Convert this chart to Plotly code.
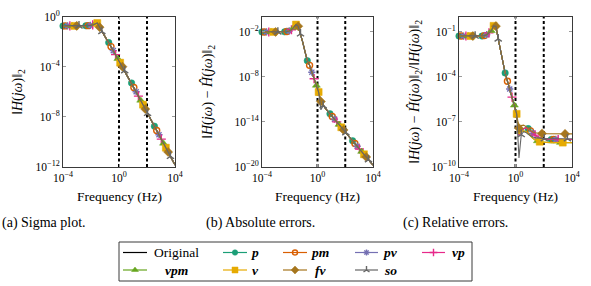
import numpy as np
import plotly.graph_objects as go
from plotly.subplots import make_subplots

W, H = 591, 286

# ---------------- data ----------------
# 50 log-spaced frequency samples between 1e-4 and 1e4 Hz
freq_hz = np.logspace(-4, 4, 50)

# log10 of sigma plot ||H(jw)||_2 (original; reduced models coincide)
sigma_log10 = [-0.75, -0.75, -0.75, -0.75, -0.75, -0.75, -0.75, -0.75, -0.75, -0.75,
               -0.74, -0.73, -0.71, -0.67, -0.60, -0.52, -0.85, -1.20, -1.50, -1.80,
               -2.08, -2.40, -2.72, -3.04, -3.36, -3.68, -4.00, -4.32, -4.64, -4.96,
               -5.30, -5.66, -6.00, -6.35, -6.69, -7.03, -7.38, -7.72, -8.06, -8.41,
               -8.75, -9.09, -9.43, -9.78, -10.12, -10.46, -10.80, -11.15, -11.49, -11.84]

# log10 of absolute error ||H - Hhat||_2
abs_err_log10 = [-2.05, -2.05, -2.05, -2.05, -2.05, -2.05, -2.05, -2.05, -2.05, -2.05,
                 -2.04, -2.00, -1.92, -1.76, -1.45, -1.07, -1.30, -2.30, -3.45, -4.70,
                 -5.87, -6.49, -7.40, -8.27, -9.16, -10.04, -11.30, -11.85, -12.20, -12.57,
                 -12.92, -13.28, -13.64, -14.00, -14.36, -14.72, -15.08, -15.44, -15.80, -16.16,
                 -16.52, -16.88, -17.24, -17.60, -17.95, -18.31, -18.67, -19.03, -19.39, -19.75]
abs_err_so_dip = {26: -12.40}

# log10 of relative error, common part (samples 0..25)
rel_err_head_log10 = [-1.30, -1.30, -1.30, -1.30, -1.30, -1.30, -1.30, -1.30, -1.30, -1.30,
                      -1.30, -1.27, -1.21, -1.09, -0.95, -0.62, -0.64, -1.49, -2.30, -3.05,
                      -3.75, -4.30, -4.82, -5.36, -5.90, -6.47]
# log10 of relative error tails (samples 26..49)
rel_tail_a = [-7.90, -7.60, -7.45, -7.40, -7.45, -7.60, -7.75, -7.88, -7.98, -8.05,
              -8.10, -8.13, -8.15, -8.16, -8.17, -8.17, -8.17, -8.17, -8.17, -8.17,
              -8.17, -8.17, -8.17, -8.17]
rel_tail_b = [-7.80, -7.65, -7.60, -7.65, -7.78, -7.95, -8.10, -8.20, -8.27, -8.32,
              -8.35, -8.37, -8.38, -8.38, -8.38, -8.38, -8.38, -8.38, -8.38, -8.38,
              -8.38, -8.38, -8.38, -8.38]
rel_tail_fv = [-7.42, -7.25, -7.22, -7.30, -7.45, -7.58, -7.67, -7.72, -7.75, -7.76,
               -7.77, -7.78, -7.78, -7.79, -7.79, -7.79, -7.80, -7.80, -7.80, -7.80,
               -7.80, -7.80, -7.80, -7.80]
rel_tail_so = [-9.40, -7.85, -7.65, -7.70, -7.82, -7.93, -8.00, -8.05, -8.08, -8.10,
               -8.11, -8.12, -8.12, -8.12, -8.12, -8.12, -8.12, -8.12, -8.12, -8.12,
               -8.12, -8.12, -8.12, -8.12]

series_names = ["p", "pm", "pv", "vp", "vpm", "v", "fv", "so"]
rel_tail_of = {"p": rel_tail_a, "pm": rel_tail_a, "pv": rel_tail_a, "vp": rel_tail_a,
               "vpm": rel_tail_b, "v": rel_tail_b, "fv": rel_tail_fv, "so": rel_tail_so}

band_edges_hz = [1.0, 100.0]

x_tick_exponents = [-4, 0, 4]
y_tick_exponents = [[-12, -8, -4, 0], [-20, -14, -8, -2], [-10, -7, -4, -1]]

x_title = "Frequency (Hz)"
captions = ["(a) Sigma plot.", "(b) Absolute errors.", "(c) Relative errors."]

# ---------------- style ----------------
colors = {"p": "#1b9e77", "pm": "#d95f02", "pv": "#7570b3", "vp": "#e7298a",
          "vpm": "#66a61e", "v": "#e6ab02", "fv": "#a6761d", "so": "#666666"}
symbols = {"p": "circle", "pm": "circle-open", "pv": "asterisk-open", "vp": "cross-thin-open",
           "vpm": "triangle-up", "v": "square", "fv": "diamond", "so": "y-up-open"}
sizes = {"p": 6.5, "pm": 6, "pv": 6, "vp": 6.5, "vpm": 7, "v": 7, "fv": 7, "so": 6}
mark_phase = {n: i for i, n in enumerate(series_names)}
MARK_REPEAT = 10
FONT = "Liberation Serif, DejaVu Serif, serif"

def marker_style(n, size=None):
    s = sizes[n] if size is None else size
    sym = symbols[n]
    lw = 1.4 if sym.endswith("-open") else 0.5
    return dict(symbol=sym, size=s, color=colors[n], line=dict(color=colors[n], width=lw))

fig = make_subplots(rows=1, cols=3)

px_x = [(63, 175), (262, 373), (459, 572)]
y_dom = [1 - 167 / H, 1 - 16.5 / H]
yranges = [[-12, 0], [-20, 0], [-10, 0]]

def add_band_lines(col):
    yr = yranges[col - 1]
    for f in band_edges_hz:
        fig.add_trace(go.Scatter(x=[f, f], y=[10 ** yr[0], 10 ** yr[1]], mode="lines",
                                 line=dict(color="black", width=2, dash="3px,2.5px"),
                                 showlegend=False, hoverinfo="skip"), row=1, col=col)

def add_series(col, n, ylog):
    y = [10 ** v for v in ylog]
    fig.add_trace(go.Scatter(x=freq_hz, y=y, mode="lines",
                             line=dict(color=colors[n], width=1.1),
                             showlegend=False, hoverinfo="skip"), row=1, col=col)
    idx = [j for j in range(len(y)) if j % MARK_REPEAT == mark_phase[n]]
    fig.add_trace(go.Scatter(x=[freq_hz[j] for j in idx], y=[y[j] for j in idx], mode="markers",
                             marker=marker_style(n), cliponaxis=False,
                             showlegend=False, hoverinfo="skip"), row=1, col=col)

# panel 1
add_band_lines(1)
fig.add_trace(go.Scatter(x=freq_hz, y=[10 ** v for v in sigma_log10], mode="lines",
                         line=dict(color="black", width=1.2), showlegend=False), row=1, col=1)
for n in series_names:
    add_series(1, n, sigma_log10)

# panel 2
add_band_lines(2)
for n in series_names:
    vals = list(abs_err_log10)
    if n == "so":
        for j, v in abs_err_so_dip.items():
            vals[j] = v
    add_series(2, n, vals)

# panel 3
add_band_lines(3)
for n in series_names:
    add_series(3, n, rel_err_head_log10 + rel_tail_of[n])

tickfont = dict(family=FONT, size=11.5, color="black")
def pow_labels(exps):
    return [f"10<sup>{'−' if e < 0 else ''}{abs(e)}</sup>" for e in exps]

for i in range(3):
    xa = "xaxis" if i == 0 else f"xaxis{i+1}"
    ya = "yaxis" if i == 0 else f"yaxis{i+1}"
    fig.layout[xa].update(type="log", range=[-4, 4], domain=[px_x[i][0] / W, px_x[i][1] / W],
                          tickmode="array", tickvals=[10.0 ** e for e in x_tick_exponents],
                          ticktext=pow_labels(x_tick_exponents), automargin=False,
                          showgrid=False, zeroline=False,
                          showline=True, linecolor="#3a3a3a", linewidth=1, mirror="allticks",
                          ticks="inside", ticklen=3, tickcolor="#9a9a9a", tickfont=tickfont)
    fig.layout[ya].update(type="log", range=yranges[i], domain=y_dom,
                          tickmode="array", tickvals=[10.0 ** e for e in y_tick_exponents[i]],
                          ticktext=pow_labels(y_tick_exponents[i]), automargin=False,
                          showgrid=False, zeroline=False,
                          showline=True, linecolor="#3a3a3a", linewidth=1, mirror="allticks",
                          ticks="inside", ticklen=3, tickcolor="#9a9a9a", tickfont=tickfont)

# ---------- legend drawn in a pixel-space overlay ----------
fig.layout.xaxis4 = dict(domain=[0, 1], range=[0, W], visible=False, fixedrange=True,
                         anchor="y4", automargin=False)
fig.layout.yaxis4 = dict(domain=[0, 1], range=[H, 0], visible=False, fixedrange=True,
                         anchor="x4", automargin=False)

leg_rows = [["Original", "p", "pm", "pv", "vp"], ["vpm", "v", "fv", "so"]]
leg_row_y = [252.5, 270]
leg_line_x = [(123, 147), (223, 247), (283, 307), (355, 378), (422, 445)]
leg_text_cx = [176, 255, 320, 390, 458]

annotations = []
for r, row in enumerate(leg_rows):
    for c, n in enumerate(row):
        x0, x1 = leg_line_x[c]
        yy = leg_row_y[r]
        col = "black" if n == "Original" else colors[n]
        fig.add_trace(go.Scatter(x=[x0, x1], y=[yy, yy], mode="lines", line=dict(color=col, width=1.2),
                                 xaxis="x4", yaxis="y4", showlegend=False, hoverinfo="skip", cliponaxis=False))
        if n != "Original":
            fig.add_trace(go.Scatter(x=[(x0 + x1) / 2], y=[yy], mode="markers",
                                     marker=marker_style(n, size=sizes[n] - 1),
                                     xaxis="x4", yaxis="y4", showlegend=False, hoverinfo="skip", cliponaxis=False))
        label = n if n == "Original" else f"<b><i>{n}</i></b>"
        annotations.append(dict(x=leg_text_cx[c] / W, y=1 - yy / H, xref="paper", yref="paper",
                                text=label, showarrow=False, xanchor="center", yanchor="middle",
                                font=dict(family=FONT, size=13.5, color="black")))

shapes = [dict(type="rect", xref="paper", yref="paper", x0=119 / W, x1=472 / W,
               y0=1 - 281 / H, y1=1 - 242 / H, line=dict(color="#3a3a3a", width=1))]

# axis titles
ytitles = ["‖<i>H</i>(<i>jω</i>)‖<sub>2</sub>",
           "‖<i>H</i>(<i>jω</i>) − <i>Ĥ</i>(<i>jω</i>)‖<sub>2</sub>",
           "‖<i>H</i>(<i>jω</i>) − <i>Ĥ</i>(<i>jω</i>)‖<sub>2</sub>/‖<i>H</i>(<i>jω</i>)‖<sub>2</sub>"]
ytitle_x = [18, 208, 415]
for i in range(3):
    annotations.append(dict(x=ytitle_x[i] / W, y=1 - 92 / H, xref="paper", yref="paper", text=ytitles[i],
                            textangle=-90, showarrow=False, xanchor="center", yanchor="middle",
                            font=dict(family=FONT, size=14, color="black")))
    cx = (px_x[i][0] + px_x[i][1]) / 2
    annotations.append(dict(x=cx / W, y=1 - 196 / H, xref="paper", yref="paper", text=x_title,
                            showarrow=False, xanchor="center", yanchor="middle",
                            font=dict(family=FONT, size=13.5, color="black")))

cap_cx = [44, 260, 455]
for i in range(3):
    annotations.append(dict(x=cap_cx[i] / W, y=1 - 222.5 / H, xref="paper", yref="paper", text=captions[i],
                            showarrow=False, xanchor="center", yanchor="middle",
                            font=dict(family=FONT, size=14, color="black")))

fig.update_layout(width=W, height=H, margin=dict(l=0, r=0, t=0, b=0, autoexpand=False),
                  paper_bgcolor="white", plot_bgcolor="rgba(0,0,0,0)",
                  showlegend=False, annotations=annotations, shapes=shapes,
                  font=dict(family=FONT, color="black"))

fig.write_html("out.html", config={"displayModeBar": False},
               post_script="document.body.style.margin='0';document.body.style.padding='0';")
